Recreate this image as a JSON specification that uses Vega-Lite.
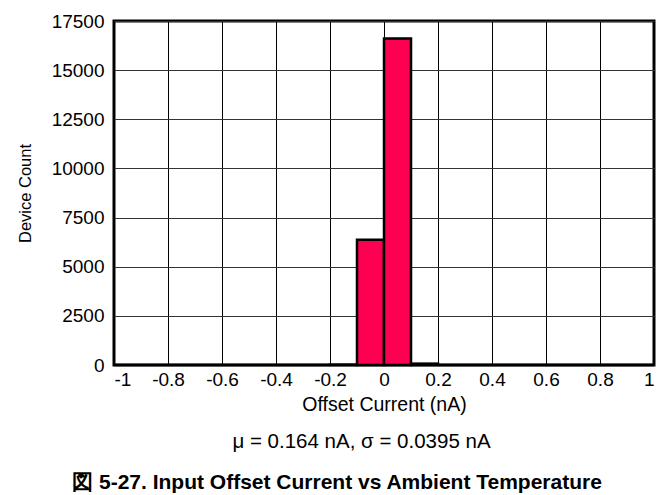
{
  "$schema": "https://vega.github.io/schema/vega-lite/v6.json",
  "width": 540,
  "height": 344,
  "autosize": "none",
  "padding": {"left": 114, "top": 21, "right": 4, "bottom": 130},
  "background": "white",
  "data": {
    "values": [
      {"start": -1.0, "end": -0.9, "count": 0},
      {"start": -0.9, "end": -0.8, "count": 0},
      {"start": -0.8, "end": -0.7, "count": 0},
      {"start": -0.7, "end": -0.6, "count": 0},
      {"start": -0.6, "end": -0.5, "count": 0},
      {"start": -0.5, "end": -0.4, "count": 0},
      {"start": -0.4, "end": -0.3, "count": 0},
      {"start": -0.3, "end": -0.2, "count": 0},
      {"start": -0.2, "end": -0.1, "count": 15},
      {"start": -0.1, "end": 0.0, "count": 6370},
      {"start": 0.0, "end": 0.1, "count": 16610},
      {"start": 0.1, "end": 0.2, "count": 70},
      {"start": 0.2, "end": 0.3, "count": 0},
      {"start": 0.3, "end": 0.4, "count": 0},
      {"start": 0.4, "end": 0.5, "count": 0},
      {"start": 0.5, "end": 0.6, "count": 0},
      {"start": 0.6, "end": 0.7, "count": 0},
      {"start": 0.7, "end": 0.8, "count": 0},
      {"start": 0.8, "end": 0.9, "count": 0},
      {"start": 0.9, "end": 1.0, "count": 0}
    ]
  },
  "layer": [
    {
      "mark": {"type": "rect", "fill": "#fe0052", "stroke": "#000000", "strokeWidth": 2.5},
      "encoding": {
        "x": {
          "field": "start",
          "type": "quantitative",
          "scale": {"domain": [-1, 1], "nice": false, "zero": false},
          "axis": {
            "orient": "bottom",
            "values": [-1, -0.8, -0.6, -0.4, -0.2, 0, 0.2, 0.4, 0.6, 0.8, 1],
            "labelExpr": "replace(format(datum.value, '~g'), '\u2212', '-')",
            "title": "Offset Current (nA)",
            "titleFontSize": 19.5,
            "titlePadding": 6,
            "labelPadding": 5
          }
        },
        "x2": {"field": "end"},
        "y": {
          "field": "count",
          "type": "quantitative",
          "scale": {"domain": [0, 17500], "nice": false},
          "axis": {
            "values": [0, 2500, 5000, 7500, 10000, 12500, 15000, 17500],
            "format": "d",
            "title": "Device Count",
            "titleFontSize": 16.5,
            "titlePadding": 18,
            "labelPadding": 10
          }
        },
        "y2": {"datum": 0}
      }
    },
    {
      "mark": {"type": "rect", "opacity": 0},
      "encoding": {
        "x": {
          "field": "start",
          "type": "quantitative",
          "axis": {
            "orient": "bottom",
            "labels": false,
            "ticks": false,
            "domain": false,
            "grid": false,
            "title": "μ = 0.164 nA, σ = 0.0395 nA",
            "titleFontSize": 20.5,
            "titleX": 247,
            "titleY": 76,
            "titleBaseline": "middle",
            "titleAlign": "center",
            "titleAnchor": null
          }
        },
        "x2": {"field": "end"},
        "y": {"field": "count", "type": "quantitative"},
        "y2": {"datum": 0}
      }
    }
  ],
  "resolve": {"axis": {"x": "independent"}},
  "title": {
    "text": "図 5-27. Input Offset Current vs Ambient Temperature",
    "orient": "bottom",
    "anchor": "middle",
    "font": "Liberation Sans",
    "fontSize": 21,
    "fontWeight": "bold",
    "color": "#000000",
    "dx": -47,
    "offset": 20
  },
  "config": {
    "font": "Liberation Sans",
    "view": {"stroke": "#000000", "strokeWidth": 3},
    "axis": {
      "domain": false,
      "ticks": false,
      "grid": true,
      "gridColor": "#000000",
      "gridOpacity": 1,
      "gridWidth": 1,
      "labelFont": "Liberation Sans",
      "labelFontSize": 19,
      "labelColor": "#000000",
      "titleFont": "Liberation Sans",
      "titleFontWeight": "normal",
      "titleColor": "#000000"
    },
    "axisY": {"gridColor": "#333333"}
  }
}
